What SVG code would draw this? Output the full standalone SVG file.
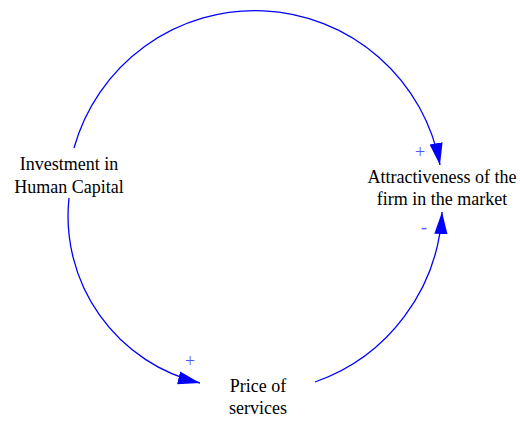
<svg xmlns="http://www.w3.org/2000/svg" width="520" height="421" viewBox="0 0 520 421">
<style>
.lbl{font-family:"Liberation Serif","Times New Roman",serif;font-size:18px;fill:#000;text-anchor:middle}
.sign{font-family:"Liberation Serif","Times New Roman",serif;font-size:18px;fill:#5555ff;text-anchor:middle}
.link{fill:none;stroke:#0000ff;stroke-width:1.3}
</style>
<defs>
<marker id="arrow" markerUnits="userSpaceOnUse" markerWidth="22" markerHeight="14" viewBox="0 0 20 12" refX="20" refY="6" orient="auto">
<path d="M0,0 L20,6 L0,12 Z" fill="#0000ff"/>
</marker>
</defs>
<rect width="520" height="421" fill="#fff"/>
<g id="connectors">
<path class="link" d="M74,148 A188,188 0 0 1 440,165" marker-end="url(#arrow)"/>
<path class="link" d="M69,198 A171.6,171.6 0 0 0 200,383" marker-end="url(#arrow)"/>
<path class="link" d="M315,382 A190,190 0 0 0 442,212" marker-end="url(#arrow)"/>
<text class="sign" x="420" y="158">+</text>
<text class="sign" x="424" y="233">-</text>
<text class="sign" x="190" y="367">+</text>
</g>
<g id="investment">
<text class="lbl" x="69" y="170">Investment in</text>
<text class="lbl" x="69" y="193">Human Capital</text>
</g>
<g id="attractiveness">
<text class="lbl" x="442" y="183">Attractiveness of the</text>
<text class="lbl" x="442" y="205">firm in the market</text>
</g>
<g id="price">
<text class="lbl" x="258" y="392">Price of</text>
<text class="lbl" x="258" y="414">services</text>
</g>
</svg>
